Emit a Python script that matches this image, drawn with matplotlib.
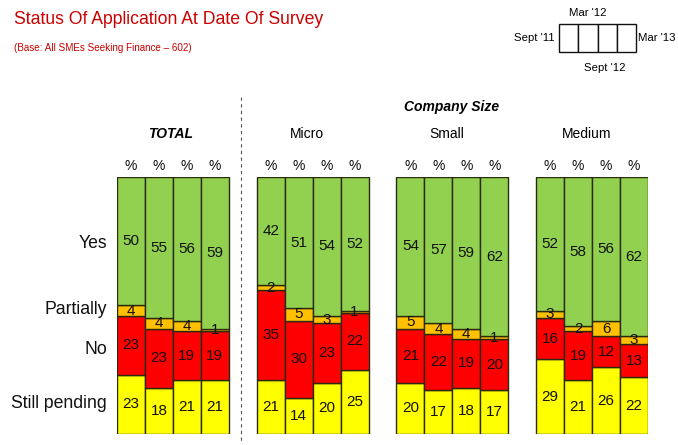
import matplotlib
matplotlib.use("Agg")
import matplotlib.pyplot as plt
from matplotlib.patches import Rectangle
from matplotlib.lines import Line2D

plt.rcParams['font.family'] = ['Liberation Sans', 'DejaVu Sans']

groups = ["TOTAL", "Micro", "Small", "Medium"]
waves = ["Sept '11", "Mar '12", "Sept '12", "Mar '13"]
categories = ["Still pending", "No", "Partially", "Yes"]
colors = ["#FFFF00", "#FF0000", "#FFC000", "#92D050"]

still_pending = [[23, 18, 21, 21], [21, 14, 20, 25], [20, 17, 18, 17], [29, 21, 26, 22]]
no = [[23, 23, 19, 19], [35, 30, 23, 22], [21, 22, 19, 20], [16, 19, 12, 13]]
partially = [[4, 4, 4, 1], [2, 5, 3, 1], [5, 4, 4, 1], [3, 2, 6, 3]]
yes = [[50, 55, 56, 59], [42, 51, 54, 52], [54, 57, 59, 62], [52, 58, 56, 62]]
series = [still_pending, no, partially, yes]

W, H = 678, 445
fig = plt.figure(figsize=(W / 100, H / 100), dpi=100)

def fx(px):
    return px / W

def fy(py):
    return 1 - py / H

# axes for bars
ax_left, ax_right, ax_top, ax_bot = 117, 648, 177, 434
ax = fig.add_axes([fx(ax_left), fy(ax_bot), (ax_right - ax_left) / W, (ax_bot - ax_top) / H])
ax.set_xlim(-0.5, 18.5)
ax.set_ylim(0, 100)
ax.axis('off')

gstep = 5
for g in range(len(groups)):
    for i in range(len(waves)):
        x = g * gstep + i
        bottom = 0
        for s, vals in enumerate(series):
            v = vals[g][i]
            ax.bar(x, v, bottom=bottom, width=1.0, color=colors[s],
                   edgecolor='#2a2a10', linewidth=1.0)
            ax.text(x, bottom + v / 2, str(v), ha='center', va='center',
                    fontsize=11, color='#111111')
            bottom += v
        ax.text(x, 101.5, "%", ha='center', va='bottom', fontsize=10, color='#111111')

# group headers
for g, name in enumerate(groups):
    xc = g * gstep + 1.5
    if name == "TOTAL":
        ax.text(xc - 0.1, 114, name, ha='center', va='bottom', fontsize=10,
                fontweight='bold', fontstyle='italic')
    else:
        ax.text(xc - 0.2, 114, name, ha='center', va='bottom', fontsize=10)

# Company Size header
fig.text(fx(452), fy(107), "Company Size", ha='center', va='center', fontsize=10,
         fontweight='bold', fontstyle='italic')

# category labels
label_y = {"Yes": 244, "Partially": 310, "No": 350, "Still pending": 404}
for name, py in label_y.items():
    fig.text(fx(107), fy(py), name, ha='right', va='center', fontsize=12.7, color='#111111')

# dashed separator
fig.add_artist(Line2D([fx(241), fx(241)], [fy(97), fy(442)], transform=fig.transFigure,
                      color='#555555', linewidth=0.8, linestyle=(0, (3, 3))))

# title
fig.text(fx(14), fy(19), "Status Of Application At Date Of Survey", ha='left', va='center',
         fontsize=12.7, color='#CC0000')
fig.text(fx(14), fy(48), "(Base: All SMEs Seeking Finance \u2013 602)", ha='left', va='center',
         fontsize=7.1, color='#CC0000')

# wave legend box
bx0, bx1, by0, by1 = 559, 636, 24, 52
cw = (bx1 - bx0) / len(waves)
for i in range(len(waves)):
    fig.add_artist(Rectangle((fx(bx0 + i * cw), fy(by1)), cw / W, (by1 - by0) / H,
                             transform=fig.transFigure, facecolor='white',
                             edgecolor='#111111', linewidth=1.0))
fig.text(fx(555), fy(38), waves[0], ha='right', va='center', fontsize=8.2)
fig.text(fx(588), fy(13), waves[1], ha='center', va='center', fontsize=8.2)
fig.text(fx(605), fy(68), waves[2], ha='center', va='center', fontsize=8.2)
fig.text(fx(638), fy(38), waves[3], ha='left', va='center', fontsize=8.2)

fig.savefig("out.png", dpi=100)
